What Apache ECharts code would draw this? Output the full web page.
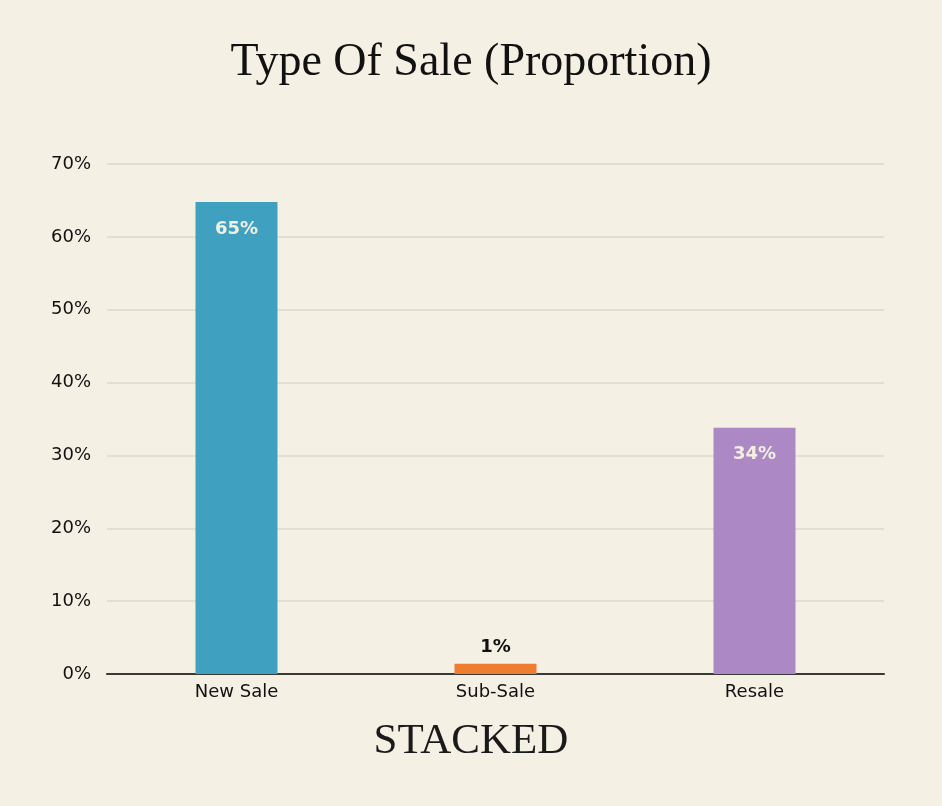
<!DOCTYPE html>
<html>
<head>
<meta charset="utf-8">
<title>Type Of Sale (Proportion)</title>
<script src="https://cdn.jsdelivr.net/npm/echarts@6/dist/echarts.min.js"></script>
<style>
    html, body { margin: 0; padding: 0; background: #f4f0e4; }
    #chart { width: 942px; height: 806px; }
</style>
</head>
<body>
<div id="chart"></div>
<script>
    // Chart data
    var categories = ['New Sale', 'Sub-Sale', 'Resale'];
    var shares = [64.8, 1.4, 33.8];
    var barColors = ['#3fa0c0', '#ee7d31', '#ac88c4'];
    var yTicks = [0, 10, 20, 30, 40, 50, 60, 70];

    var chart = echarts.init(document.getElementById('chart'));

    var sansFont = '"DejaVu Sans", "Noto Sans", sans-serif';
    var serifFont = '"Liberation Serif", "DejaVu Serif", serif';

    var barData = shares.map(function(v, i) {
        // small bars get their label above, others inside the top
        var small = v < 5;
        return {
            value: v,
            itemStyle: { color: barColors[i] },
            label: {
                position: small ? 'top' : 'insideTop',
                distance: small ? 7 : 18,
                color: small ? '#111' : '#f2eee2'
            }
        };
    });

    var option = {
        backgroundColor: '#f4f0e4',
        title: {
            text: 'Type Of Sale (Proportion)',
            left: 'center',
            top: 35,
            textStyle: {
                fontFamily: serifFont,
                fontWeight: 'normal',
                fontSize: 46,
                color: '#111'
            }
        },
        graphic: [{
            type: 'text',
            left: 'center',
            top: 720,
            style: {
                text: 'STACKED',
                font: '43px ' + serifFont,
                fill: '#1a1a1a'
            }
        }],
        grid: {
            left: 107,
            right: 58,
            top: 164,
            bottom: 132
        },
        xAxis: {
            type: 'category',
            data: categories,
            axisLine: { lineStyle: { color: '#3a3a35', width: 2 } },
            axisTick: { show: false },
            axisLabel: {
                margin: 9,
                fontFamily: sansFont,
                fontSize: 18,
                color: '#111'
            }
        },
        yAxis: {
            type: 'value',
            min: yTicks[0],
            max: yTicks[yTicks.length - 1],
            interval: 10,
            axisLine: { show: false },
            axisTick: { show: false },
            splitLine: { lineStyle: { color: '#dcd8cc', width: 1.5 } },
            axisLabel: {
                margin: 16,
                fontFamily: sansFont,
                fontSize: 18,
                color: '#111',
                formatter: '{value}%'
            }
        },
        series: [{
            type: 'bar',
            barWidth: 82,
            data: barData,
            label: {
                show: true,
                fontFamily: sansFont,
                fontWeight: 'bold',
                fontSize: 18,
                formatter: function(p) {
                    return Math.round(p.value) + '%';
                }
            }
        }]
    };

    chart.setOption(option);

    window.addEventListener('resize', function() {
        chart.resize();
    });
</script>
</body>
</html>
